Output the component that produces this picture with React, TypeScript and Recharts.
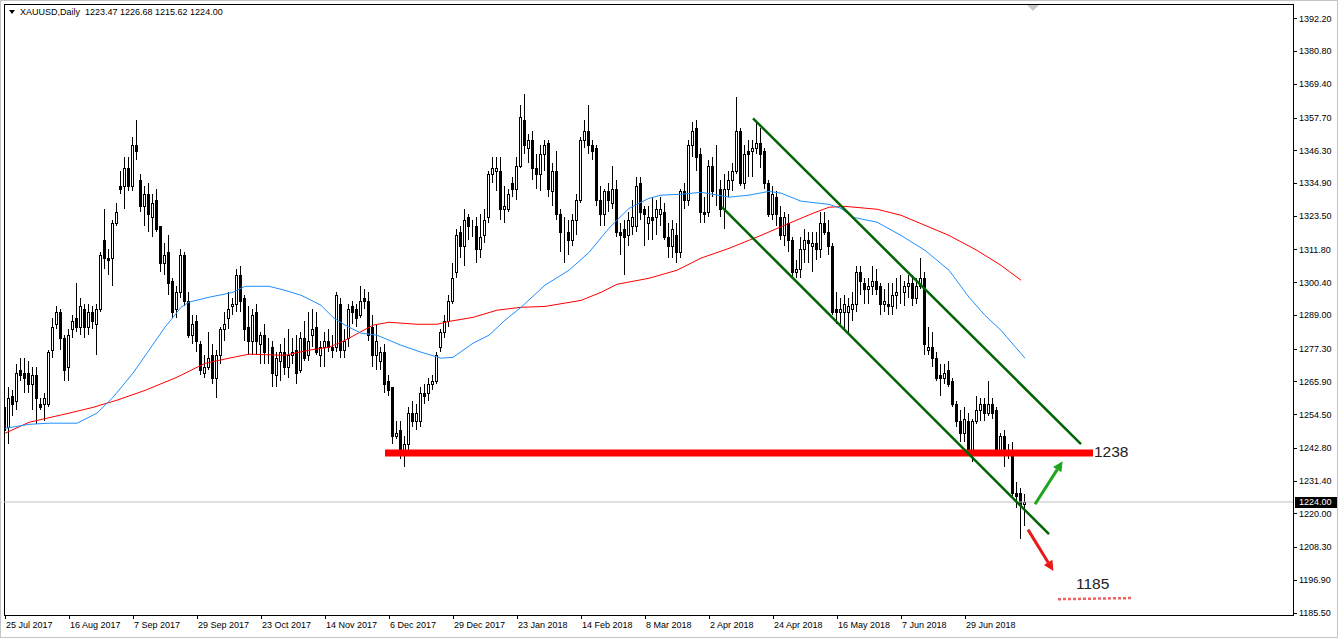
import React from 'react';
import { ComposedChart, Bar, Line, XAxis, YAxis, ReferenceLine, ReferenceDot, ReferenceArea } from 'recharts';

// open, high, low, close per trading day
type Candle = [number, number, number, number];

const jul17: Candle[] = [
  [1257, 1259, 1247, 1249], [1250, 1264, 1244, 1260], [1261, 1263, 1254, 1258], [1259, 1272, 1256, 1269],
  [1270, 1274, 1266, 1268],
];
const aug17: Candle[] = [
  [1269, 1274, 1262, 1267], [1269, 1273, 1262, 1265], [1265, 1271, 1256, 1268], [1268, 1271, 1251, 1260],
  [1258, 1260, 1256, 1257], [1258, 1262, 1252, 1260], [1258, 1277, 1257, 1276], [1277, 1288, 1274, 1285],
  [1286, 1292, 1284, 1290], [1290, 1291, 1277, 1281], [1281, 1282, 1266, 1270], [1271, 1284, 1266, 1282],
  [1284, 1289, 1281, 1287], [1288, 1300, 1283, 1285], [1285, 1295, 1282, 1292], [1291, 1293, 1281, 1285],
  [1285, 1293, 1282, 1290], [1290, 1292, 1284, 1287], [1286, 1293, 1275, 1291], [1291, 1311, 1290, 1310],
  [1315, 1326, 1305, 1309], [1309, 1312, 1303, 1308], [1309, 1322, 1299, 1321],
];
const sep17: Candle[] = [
  [1321, 1328, 1320, 1325], [1334, 1339, 1331, 1333], [1334, 1344, 1326, 1340], [1340, 1344, 1332, 1334],
  [1334, 1351, 1332, 1348], [1348, 1357, 1343, 1346], [1336, 1338, 1325, 1327], [1327, 1334, 1320, 1331],
  [1331, 1335, 1318, 1324], [1323, 1331, 1316, 1328], [1329, 1333, 1318, 1319], [1320, 1320, 1304, 1307],
  [1307, 1314, 1303, 1310], [1311, 1317, 1296, 1300], [1301, 1302, 1288, 1290], [1291, 1299, 1288, 1297],
  [1297, 1312, 1295, 1310], [1310, 1311, 1292, 1294], [1294, 1297, 1281, 1282], [1282, 1289, 1279, 1286],
  [1287, 1289, 1276, 1280],
];
const oct17: Candle[] = [
  [1279, 1280, 1268, 1270], [1269, 1275, 1267, 1271], [1271, 1283, 1270, 1274], [1275, 1279, 1265, 1267],
  [1267, 1277, 1260, 1275], [1275, 1285, 1272, 1284], [1284, 1290, 1280, 1286], [1288, 1297, 1284, 1291],
  [1292, 1295, 1289, 1293], [1293, 1305, 1290, 1303], [1303, 1306, 1290, 1294], [1295, 1296, 1280, 1284],
  [1285, 1292, 1275, 1280], [1280, 1291, 1275, 1289], [1290, 1293, 1275, 1280], [1279, 1283, 1272, 1282],
  [1282, 1286, 1272, 1276], [1276, 1281, 1272, 1276], [1278, 1280, 1264, 1269], [1268, 1276, 1264, 1274],
  [1273, 1279, 1266, 1276], [1276, 1281, 1268, 1271],
];
const nov17: Candle[] = [
  [1271, 1284, 1267, 1275], [1275, 1281, 1272, 1276], [1277, 1282, 1265, 1269], [1270, 1283, 1269, 1281],
  [1281, 1287, 1273, 1274], [1275, 1290, 1273, 1280], [1282, 1291, 1278, 1284], [1285, 1290, 1275, 1276],
  [1275, 1280, 1271, 1278], [1278, 1283, 1271, 1280], [1280, 1284, 1276, 1278], [1278, 1282, 1274, 1277],
  [1278, 1297, 1276, 1296], [1293, 1295, 1274, 1277], [1277, 1284, 1274, 1280], [1281, 1293, 1278, 1291],
  [1292, 1294, 1286, 1290], [1291, 1293, 1285, 1288], [1289, 1299, 1288, 1294], [1295, 1298, 1291, 1294],
  [1294, 1297, 1280, 1282], [1285, 1289, 1271, 1275],
];
const dec17: Candle[] = [
  [1275, 1286, 1270, 1280], [1273, 1278, 1270, 1276], [1276, 1279, 1262, 1265], [1266, 1268, 1261, 1263],
  [1264, 1264, 1244, 1247], [1247, 1252, 1246, 1248], [1249, 1252, 1239, 1241], [1241, 1247, 1236, 1244],
  [1244, 1257, 1241, 1255], [1255, 1259, 1250, 1252], [1252, 1258, 1249, 1255], [1252, 1264, 1250, 1262],
  [1262, 1265, 1258, 1261], [1262, 1267, 1259, 1265], [1265, 1268, 1263, 1266], [1266, 1276, 1265, 1275],
  [1278, 1284, 1276, 1283], [1283, 1289, 1281, 1287], [1287, 1296, 1285, 1294], [1294, 1307, 1293, 1302],
];
const jan18: Candle[] = [
  [1304, 1319, 1302, 1317], [1318, 1320, 1309, 1313], [1313, 1326, 1306, 1322], [1323, 1324, 1315, 1320],
  [1320, 1322, 1316, 1320], [1320, 1323, 1307, 1312], [1312, 1324, 1309, 1316], [1317, 1326, 1314, 1322],
  [1323, 1339, 1321, 1338], [1338, 1344, 1335, 1340], [1339, 1344, 1332, 1340], [1339, 1344, 1322, 1326],
  [1326, 1334, 1321, 1327], [1326, 1333, 1325, 1331], [1335, 1337, 1330, 1333], [1333, 1344, 1329, 1341],
  [1341, 1362, 1340, 1358], [1357, 1366, 1345, 1348], [1347, 1352, 1342, 1350], [1350, 1353, 1336, 1340],
  [1340, 1345, 1333, 1338], [1338, 1348, 1332, 1345],
];
const feb18: Candle[] = [
  [1345, 1350, 1339, 1348], [1349, 1350, 1330, 1333], [1332, 1342, 1327, 1339], [1339, 1346, 1322, 1324],
  [1324, 1326, 1311, 1318], [1318, 1323, 1307, 1318], [1318, 1322, 1310, 1315], [1315, 1324, 1313, 1322],
  [1322, 1331, 1317, 1329], [1329, 1351, 1328, 1350], [1350, 1357, 1347, 1353], [1353, 1362, 1345, 1348],
  [1348, 1350, 1343, 1346], [1347, 1348, 1327, 1329], [1329, 1334, 1320, 1324], [1324, 1333, 1320, 1332],
  [1332, 1335, 1325, 1329], [1328, 1341, 1326, 1333], [1333, 1336, 1316, 1318], [1318, 1321, 1310, 1317],
];
const mar18: Candle[] = [
  [1319, 1322, 1303, 1316], [1317, 1325, 1313, 1322], [1320, 1329, 1317, 1323], [1320, 1337, 1318, 1334],
  [1335, 1337, 1322, 1325], [1326, 1327, 1313, 1324], [1321, 1327, 1315, 1323], [1323, 1330, 1315, 1322],
  [1323, 1329, 1317, 1326], [1324, 1330, 1320, 1326], [1325, 1328, 1315, 1316], [1316, 1321, 1309, 1313],
  [1313, 1322, 1309, 1319], [1317, 1321, 1307, 1311], [1311, 1333, 1309, 1332], [1332, 1335, 1326, 1329],
  [1329, 1350, 1327, 1348], [1348, 1356, 1344, 1353], [1354, 1357, 1339, 1344], [1345, 1347, 1321, 1325],
  [1325, 1330, 1321, 1324],
];
const apr18: Candle[] = [
  [1325, 1343, 1323, 1341], [1341, 1344, 1330, 1332], [1333, 1348, 1327, 1333], [1333, 1336, 1323, 1326],
  [1326, 1338, 1319, 1333], [1333, 1339, 1330, 1336], [1336, 1342, 1332, 1339], [1339, 1365, 1338, 1353],
  [1353, 1354, 1334, 1335], [1335, 1348, 1333, 1345], [1346, 1350, 1337, 1345], [1346, 1350, 1337, 1347],
  [1347, 1356, 1345, 1349], [1349, 1354, 1340, 1345], [1346, 1347, 1333, 1335], [1335, 1336, 1323, 1324],
  [1324, 1334, 1322, 1331], [1330, 1332, 1320, 1324], [1323, 1327, 1315, 1317], [1317, 1325, 1313, 1323],
  [1321, 1324, 1311, 1315],
];
const may18: Candle[] = [
  [1315, 1316, 1302, 1304], [1304, 1308, 1302, 1305], [1305, 1316, 1302, 1312], [1312, 1319, 1307, 1315],
  [1315, 1318, 1307, 1314], [1313, 1318, 1304, 1314], [1314, 1318, 1308, 1312], [1312, 1325, 1309, 1321],
  [1321, 1325, 1317, 1318], [1318, 1322, 1310, 1313], [1313, 1314, 1289, 1290], [1291, 1297, 1286, 1290],
  [1290, 1295, 1286, 1291], [1290, 1296, 1284, 1293], [1290, 1295, 1282, 1292], [1291, 1297, 1287, 1293],
  [1293, 1306, 1290, 1304], [1304, 1306, 1296, 1301], [1300, 1302, 1293, 1298], [1298, 1302, 1293, 1299],
  [1299, 1306, 1296, 1301], [1301, 1305, 1296, 1298], [1299, 1300, 1289, 1293],
];
const jun18: Candle[] = [
  [1293, 1298, 1290, 1294], [1293, 1300, 1289, 1292], [1292, 1300, 1289, 1296], [1296, 1302, 1291, 1297],
  [1297, 1303, 1293, 1297], [1297, 1301, 1292, 1299], [1299, 1303, 1295, 1300], [1300, 1303, 1292, 1295],
  [1295, 1302, 1293, 1299], [1299, 1309, 1298, 1302], [1302, 1304, 1275, 1279], [1277, 1285, 1275, 1278],
  [1278, 1283, 1271, 1274], [1274, 1276, 1266, 1267], [1268, 1272, 1261, 1267], [1267, 1272, 1265, 1269],
  [1270, 1273, 1264, 1265], [1266, 1267, 1257, 1258], [1258, 1259, 1250, 1252], [1252, 1256, 1245, 1248],
  [1248, 1257, 1245, 1253],
];
const jul18: Candle[] = [
  [1252, 1255, 1240, 1242], [1242, 1253, 1238, 1252], [1252, 1261, 1251, 1256], [1256, 1260, 1252, 1258],
  [1258, 1260, 1252, 1255], [1255, 1266, 1254, 1258], [1258, 1260, 1253, 1255], [1256, 1257, 1241, 1242],
  [1242, 1248, 1240, 1247], [1247, 1249, 1236, 1241], [1242, 1244, 1239, 1241], [1241, 1245, 1226, 1227],
  [1227, 1231, 1222, 1226], [1227, 1229, 1211, 1223], [1223.47, 1226.68, 1215.62, 1224.0],
];

// moving averages: [bar index, price]
const blueMa: [number, number][] = [
  [0, 1249.6], [6, 1251.0], [11, 1251.4], [18, 1251.4], [23, 1254.9], [27, 1260.4], [32, 1268.8], [36, 1276.8],
  [40, 1284.8], [42, 1288.2], [44, 1291.7], [46, 1293.5], [51, 1295.2], [57, 1296.9], [60, 1299.0], [66, 1299.0],
  [70, 1297.6], [74, 1295.9], [79, 1292.4], [82, 1288.2], [85, 1285.5], [89, 1282.7], [93, 1282.0], [99, 1278.5],
  [104, 1276.1], [109, 1274.0], [112, 1274.3], [117, 1279.2], [121, 1282.0], [125, 1287.2], [129, 1291.7],
  [135, 1299.4], [141, 1304.6], [146, 1310.8], [151, 1319.2], [156, 1326.1], [161, 1329.6], [164, 1330.7],
  [169, 1331.0], [174, 1331.7], [181, 1330.0], [186, 1330.7], [191, 1332.0], [194, 1331.4], [199, 1328.6],
  [206, 1327.5], [209, 1326.1], [212, 1323.0], [218, 1321.3], [224, 1316.7], [230, 1311.5], [236, 1304.6],
  [241, 1295.2], [245, 1288.9], [249, 1283.7], [255, 1274.0],
];
const redMa: [number, number][] = [
  [0, 1247.9], [6, 1251.7], [16, 1254.9], [22, 1256.9], [28, 1259.4], [35, 1262.8], [43, 1267.4], [50, 1272.2],
  [56, 1274.0], [61, 1275.4], [70, 1275.0], [76, 1276.8], [81, 1277.8], [85, 1280.2], [92, 1285.5], [96, 1286.5],
  [103, 1285.8], [108, 1285.8], [111, 1286.8], [117, 1288.2], [123, 1290.7], [129, 1291.7], [135, 1292.0],
  [144, 1294.1], [149, 1296.9], [153, 1299.7], [161, 1301.8], [168, 1304.6], [174, 1308.8], [181, 1312.2],
  [189, 1316.7], [196, 1320.9], [202, 1324.4], [206, 1326.5], [210, 1326.8], [218, 1325.8], [224, 1323.7],
  [236, 1316.7], [243, 1311.5], [249, 1306.3], [254, 1301.1],
];

const dateTicks = [0, 16, 32, 48, 64, 80, 96, 112, 128, 144, 160, 176, 192, 208, 224, 240];
const dateLabels = [
  '25 Jul 2017', '16 Aug 2017', '7 Sep 2017', '29 Sep 2017', '23 Oct 2017', '14 Nov 2017', '6 Dec 2017',
  '29 Dec 2017', '23 Jan 2018', '14 Feb 2018', '8 Mar 2018', '2 Apr 2018', '24 Apr 2018', '16 May 2018',
  '7 Jun 2018', '29 Jun 2018',
];
const priceTicks = [
  1392.2, 1380.8, 1369.4, 1357.7, 1346.3, 1334.9, 1323.5, 1311.8, 1300.4, 1289.0, 1277.3, 1265.9, 1254.5,
  1242.8, 1231.4, 1220.0, 1208.3, 1196.9, 1185.5,
];

// drawn objects, in bar index / price
const upperChannel = [{ x: 187, y: 1357.4 }, { x: 269, y: 1244.1 }];
const lowerChannel = [{ x: 179.25, y: 1326.5 }, { x: 261, y: 1212.8 }];
const supportLevel = [{ x: 95, y: 1241.05 }, { x: 272, y: 1241.05 }];
const targetLevel = [{ x: 263.25, y: 1190.2 }, { x: 282, y: 1190.6 }];
const upArrow = [{ x: 257.5, y: 1223.2 }, { x: 264.4, y: 1238.2 }];
const downArrow = [{ x: 255.75, y: 1214.4 }, { x: 262.1, y: 1200.0 }];
const supportLabel = { x: 272.25, y: 1241.75, text: '1238' };
const targetLabel = { x: 267.75, y: 1195.6, text: '1185' };

const symbol = 'XAUUSD,Daily';
const lastPrice = 1224.0;
const shiftBar = 257;

const X_DOMAIN: [number, number] = [-0.25, 322];
const Y_DOMAIN: [number, number] = [1184.7, 1397.17];
const FONT = '"Liberation Sans", Arial, sans-serif';

const candles: Candle[] = [
  ...jul17, ...aug17, ...sep17, ...oct17, ...nov17, ...dec17,
  ...jan18, ...feb18, ...mar18, ...apr18, ...may18, ...jun18, ...jul18,
];

const rows: any[] = candles.map(([o, h, l, c], i) => ({ i, o, h, l, c, range: [l, h] }));
blueMa.forEach(([i, v]) => { if (rows[i]) rows[i].maFast = v; });
redMa.forEach(([i, v]) => { if (rows[i]) rows[i].maSlow = v; });

const CandleShape = (props: any) => {
  const { x, y, width, height, payload } = props;
  if (!payload) return null;
  const { o, h, l, c } = payload;
  const top = Math.min(y, y + height);
  const hgt = Math.abs(height);
  const k = hgt / (h - l || 1);
  const py = (v: number) => top + (h - v) * k;
  const cx = Math.floor(x + width / 2);
  const bTop = Math.round(py(Math.max(o, c)));
  const bBot = Math.round(py(Math.min(o, c)));
  return (
    <g>
      <line x1={cx + 0.5} x2={cx + 0.5} y1={Math.round(top)} y2={Math.round(top + hgt)} stroke="#000" strokeWidth={1} shapeRendering="crispEdges" />
      <rect x={cx - 0.5} y={bTop + 0.5} width={2} height={Math.max(bBot - bTop, 0)} fill={c >= o ? '#fff' : '#000'} stroke="#000" strokeWidth={1} shapeRendering="crispEdges" />
    </g>
  );
};

const arrowShape = (color: string) => (p: any) => {
  const { x1, y1, x2, y2 } = p;
  const ang = Math.atan2(y2 - y1, x2 - x1);
  const len = 10;
  const half = 5;
  const bx = x2 - len * Math.cos(ang);
  const by = y2 - len * Math.sin(ang);
  const nx = -Math.sin(ang) * half;
  const ny = Math.cos(ang) * half;
  return (
    <g>
      <line x1={x1} y1={y1} x2={bx} y2={by} stroke={color} strokeWidth={3} />
      <polygon points={`${x2},${y2} ${bx + nx},${by + ny} ${bx - nx},${by - ny}`} fill={color} />
    </g>
  );
};

const DateTick = (props: any) => {
  const { x, y, payload } = props;
  const idx = dateTicks.indexOf(payload.value);
  return (
    <g>
      <line x1={Math.round(x) + 0.5} x2={Math.round(x) + 0.5} y1={y} y2={y + 4} stroke="#000" />
      <text x={x + 1} y={y + 13} fontSize={9} fontFamily={FONT} fill="#000">{dateLabels[idx]}</text>
    </g>
  );
};

const PriceTick = (props: any) => {
  const { x, y, payload } = props;
  return (
    <g>
      <line x1={x} x2={x + 4} y1={Math.round(y) + 0.5} y2={Math.round(y) + 0.5} stroke="#000" />
      <text x={x + 6} y={y + 3.3} fontSize={9} fontFamily={FONT} fill="#000">{payload.value.toFixed(2)}</text>
    </g>
  );
};

const textShape = (text: string) => (p: any) => (
  <text x={p.cx} y={p.cy} dy="0.36em" fontSize={15.5} fontFamily={FONT} fill="#222">{text}</text>
);

const FrameShape = (p: any) => (
  <rect x={Math.round(p.x) + 0.5} y={Math.round(p.y) + 0.5} width={Math.round(p.width)} height={Math.round(p.height)} fill="none" stroke="#000" strokeWidth={1} />
);

export default function App() {
  return (
    <div style={{ position: 'absolute', left: 0, top: 0, width: 1338, height: 638, background: '#fff', overflow: 'hidden' }}>
      <ComposedChart width={1338} height={638} data={rows} margin={{ top: 4, right: 0, left: 4, bottom: 3 }}>
        <XAxis
          type="number"
          dataKey="i"
          domain={X_DOMAIN}
          allowDataOverflow
          ticks={dateTicks}
          interval={0}
          height={20}
          axisLine={false}
          tickLine={false}
          tickSize={0}
          tickMargin={0}
          tick={<DateTick />}
        />
        <YAxis
          orientation="right"
          type="number"
          domain={Y_DOMAIN}
          allowDataOverflow
          ticks={priceTicks}
          interval={0}
          width={45}
          axisLine={false}
          tickLine={false}
          tickSize={0}
          tickMargin={0}
          tick={<PriceTick />}
        />
        <ReferenceArea x1={X_DOMAIN[0]} x2={X_DOMAIN[1]} y1={Y_DOMAIN[0]} y2={Y_DOMAIN[1]} shape={FrameShape} />
        <ReferenceLine
          y={lastPrice}
          stroke="#c0c0c0"
          strokeWidth={1}
          label={{
            content: (lp: any) => {
              const vb = lp.viewBox || {};
              const right = vb.x + vb.width;
              return (
                <g>
                  <rect x={right + 2} y={Math.round(vb.y) - 5} width={43} height={11} fill="#000" />
                  <text x={right + 6} y={vb.y + 3.3} fontSize={9} fontFamily={FONT} fill="#fff">{lastPrice.toFixed(2)}</text>
                </g>
              );
            },
          }}
        />
        <Line dataKey="maSlow" stroke="#ff0000" strokeWidth={1} dot={false} connectNulls isAnimationActive={false} />
        <Line dataKey="maFast" stroke="#1e90ff" strokeWidth={1} dot={false} connectNulls isAnimationActive={false} />
        <Bar dataKey="range" barSize={3} shape={<CandleShape />} isAnimationActive={false} />
        <ReferenceLine segment={supportLevel} stroke="#ff0000" strokeWidth={7} />
        <ReferenceLine segment={upperChannel} stroke="#006400" strokeWidth={2.5} />
        <ReferenceLine segment={lowerChannel} stroke="#006400" strokeWidth={2.5} />
        <ReferenceLine segment={targetLevel} stroke="#f06262" strokeWidth={2.5} strokeDasharray="3 2" />
        <ReferenceLine segment={upArrow} stroke="#1fa51f" shape={arrowShape('#1fa51f')} />
        <ReferenceLine segment={downArrow} stroke="#e81a1a" shape={arrowShape('#e81a1a')} />
        <ReferenceDot x={supportLabel.x} y={supportLabel.y} r={0} shape={textShape(supportLabel.text)} />
        <ReferenceDot x={targetLabel.x} y={targetLabel.y} r={0} shape={textShape(targetLabel.text)} />
        <ReferenceDot
          x={shiftBar}
          y={Y_DOMAIN[1]}
          r={0}
          shape={(p: any) => (
            <polygon points={`${p.cx - 6},${p.cy + 1} ${p.cx + 6},${p.cy + 1} ${p.cx},${p.cy + 7}`} fill="#c8c8c8" />
          )}
        />
      </ComposedChart>
      <div style={{ position: 'absolute', left: 9, top: 7, fontFamily: FONT, fontSize: 9, color: '#000', whiteSpace: 'pre', display: 'flex', alignItems: 'center' }}>
        <svg width={6} height={4} style={{ marginRight: 5 }}>
          <polygon points="0,0 6,0 3,4" fill="#000" />
        </svg>
        <span>{`${symbol}  ${candles[candles.length - 1].map((v) => v.toFixed(2)).join(' ')}`}</span>
      </div>
      <div style={{ position: 'absolute', inset: 0, border: '1px solid #c4c4c4', pointerEvents: 'none' }} />
    </div>
  );
}
